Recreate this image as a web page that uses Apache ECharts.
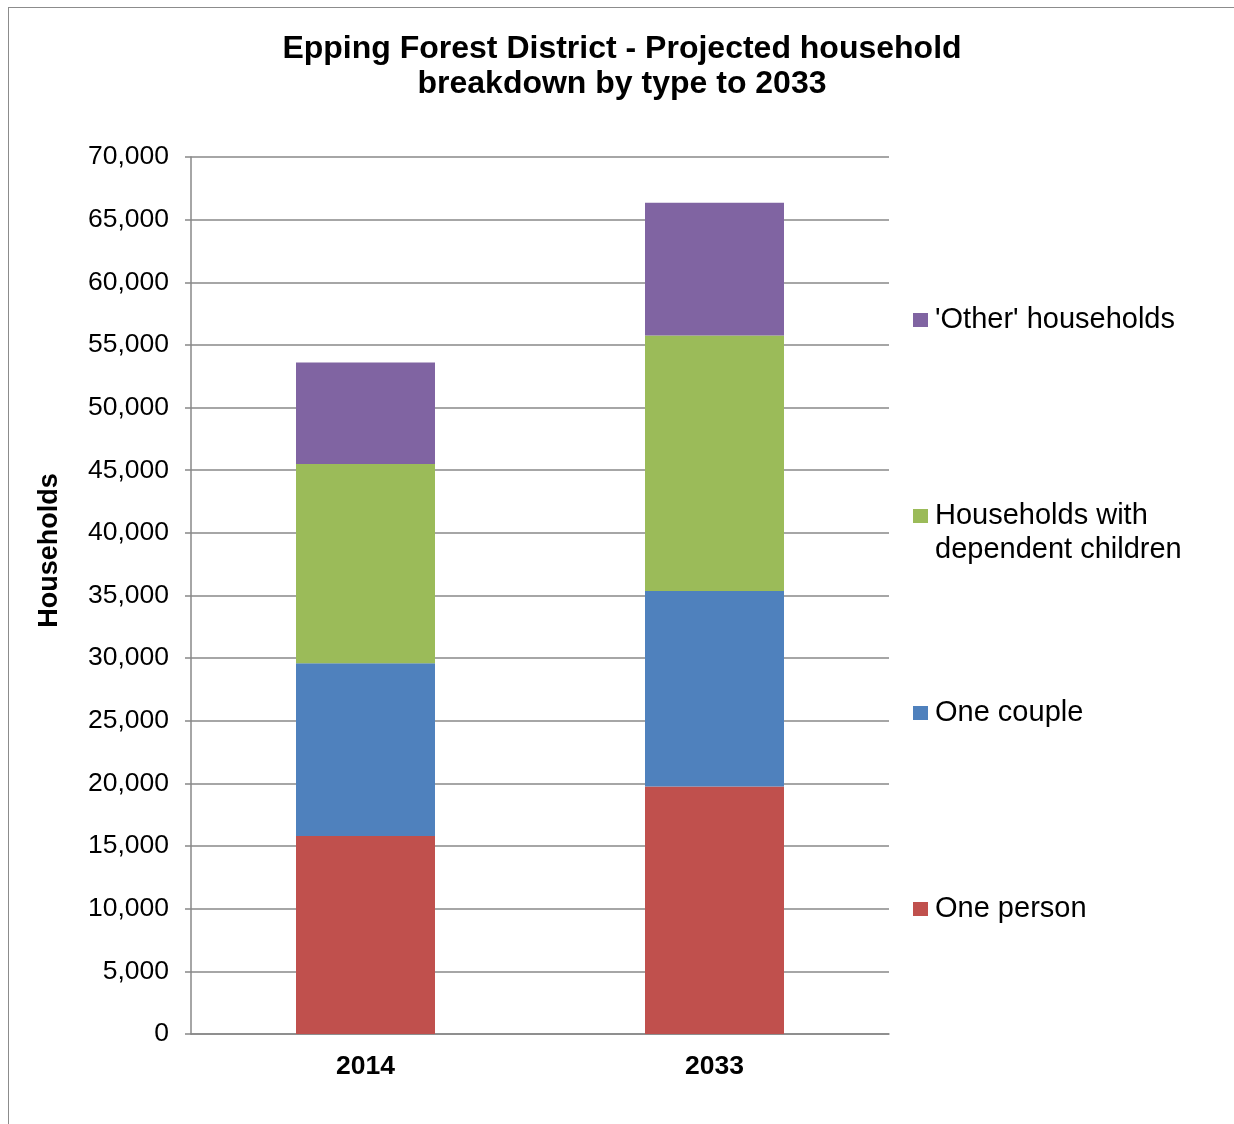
<!DOCTYPE html>
<html>
<head>
<meta charset="utf-8">
<script src="https://cdn.jsdelivr.net/npm/echarts@6/dist/echarts.min.js"></script>
<style>
  body { margin: 0; background: #fff; }
  #chart { width: 1234px; height: 1124px; }
  .frame {
    position: absolute; left: 8px; top: 7px; width: 1240px; height: 1130px;
    border-top: 1px solid #8c8c8c; border-left: 1px solid #8c8c8c;
    pointer-events: none;
  }
</style>
</head>
<body>
<div id="chart"></div>
<div class="frame"></div>
<script>
const years = ['2014', '2033'];
const onePerson = [15800, 19750];
const oneCouple = [13800, 15600];
const withChildren = [15900, 20400];
const otherHouseholds = [8100, 10600];

const font = '"Liberation Sans", Arial, sans-serif';

const chart = echarts.init(document.getElementById('chart'));

function bar(name, data, color) {
  return {
    name: name,
    type: 'bar',
    stack: 'total',
    barWidth: 139,
    data: data,
    itemStyle: { color: color }
  };
}

// one legend per entry so the gaps match the original
function legendAt(top, name, opts) {
  return Object.assign({
    orient: 'vertical',
    left: 913,
    top: top,
    padding: 0,
    data: [name],
    icon: 'rect',
    itemWidth: 15,
    itemHeight: 14,
    selectedMode: false,
    textStyle: { fontFamily: font, fontSize: 29, color: '#000', lineHeight: 34, padding: [0, 0, 0, 2] }
  }, opts || {});
}

chart.setOption({
  animation: false,
  title: {
    text: 'Epping Forest District - Projected household\nbreakdown by type to 2033',
    left: 617,
    textAlign: 'center',
    top: 27,
    textStyle: { fontFamily: font, fontSize: 32, fontWeight: 'bold', color: '#000', lineHeight: 35 }
  },
  legend: [
    legendAt(303, "'Other' households"),
    legendAt(499, 'Households with dependent children', {
      formatter: () => 'Households with'
    }),
    legendAt(533, 'Households with dependent children', {
      icon: 'none',
      formatter: () => 'dependent children'
    }),
    legendAt(696, 'One couple'),
    legendAt(892, 'One person')
  ],
  grid: { left: 191, right: 345, top: 157, bottom: 90 },
  xAxis: {
    type: 'category',
    data: years,
    axisLine: { lineStyle: { color: '#888', width: 1.5 } },
    axisTick: { length: 7, lineStyle: { color: '#888', width: 1.5 } },
    axisLabel: { margin: 19, fontFamily: font, fontSize: 26.5, fontWeight: 'bold', color: '#000' }
  },
  yAxis: {
    type: 'value',
    min: 0,
    max: 70000,
    interval: 5000,
    name: 'Households',
    nameLocation: 'middle',
    nameRotate: 90,
    nameGap: 128,
    nameTextStyle: {
      fontFamily: font, fontSize: 27, fontWeight: 'bold', color: '#000',
      padding: [0, 0, 0, 90]
    },
    axisLine: { show: true, lineStyle: { color: '#888', width: 1.5 } },
    axisTick: { show: true, length: 6, lineStyle: { color: '#888', width: 1.5 } },
    axisLabel: {
      margin: 22,
      fontFamily: font,
      fontSize: 26.5,
      color: '#000',
      formatter: v => v.toLocaleString('en-US')
    },
    splitLine: { lineStyle: { color: '#888', width: 1.5 } }
  },
  series: [
    bar('One person', onePerson, '#C0504D'),
    bar('One couple', oneCouple, '#4F81BD'),
    bar('Households with dependent children', withChildren, '#9BBB59'),
    bar("'Other' households", otherHouseholds, '#8064A2')
  ]
});
</script>
</body>
</html>
